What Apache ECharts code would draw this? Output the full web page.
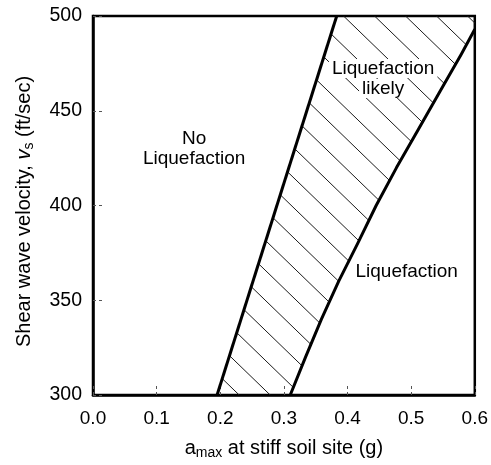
<!DOCTYPE html>
<html>
<head>
<meta charset="utf-8">
<script src="https://cdn.jsdelivr.net/npm/echarts@6/dist/echarts.min.js"></script>
<style>
  html, body { margin: 0; padding: 0; background: #fff; }
  #chart { width: 491px; height: 465px; }
</style>
</head>
<body>
<div id="chart"></div>
<script>
// Axis ticks
const xTicks = [0, 0.1, 0.2, 0.3, 0.4, 0.5, 0.6];
const yTicks = [300, 350, 400, 450, 500];

// Boundary between "No Liquefaction" and "Liquefaction likely"
const lowerBoundV = [300, 500];
const lowerBoundA = [0.195, 0.383];

// Boundary between "Liquefaction likely" and "Liquefaction"
const upperBoundV = [300, 320, 340, 360, 380, 400, 420, 440, 460, 480, 493];
const upperBoundA = [0.31, 0.334, 0.359, 0.386, 0.416, 0.445, 0.477, 0.511, 0.545, 0.579, 0.6];

// Zone labels
const zoneLabels = ['No\nLiquefaction', 'Liquefaction\nlikely', 'Liquefaction'];
const zoneLabelA = [0.159, 0.456, 0.493];
const zoneLabelV = [430, 467, 365];
const zoneLabelBoxed = [false, true, false];

const FONT = '"Liberation Sans", Arial, Helvetica, sans-serif';
const FS = 19;
const TS = 20;

// Diagonal hatch tile for the "likely" band
function hatchTile() {
  const w = 31, h = 30, off = 17;
  const c = document.createElement('canvas');
  c.width = w; c.height = h;
  const g = c.getContext('2d');
  g.strokeStyle = '#1a1a1a';
  g.lineWidth = 1;
  [-w, 0].forEach(s => {
    g.beginPath();
    g.moveTo(off + s, 0);
    g.lineTo(off + s + w, h);
    g.stroke();
  });
  return c;
}
const hatch = hatchTile();

const xMin = xTicks[0], xMax = xTicks[xTicks.length - 1];
const yMin = yTicks[0], yMax = yTicks[yTicks.length - 1];

const lowerLine = lowerBoundA.map((a, i) => [a, lowerBoundV[i]]);
const upperLine = upperBoundA.map((a, i) => [a, upperBoundV[i]]);

// Band outline: lower boundary up, along the top edge, then down the upper boundary
const band = lowerLine
  .concat([[xMax, yMax]])
  .concat(upperLine.slice().reverse());

const chart = echarts.init(document.getElementById('chart'), null, { renderer: 'canvas' });

const plain = { textBorderWidth: 0, textBorderColor: 'transparent', textShadowBlur: 0 };

chart.setOption({
  animation: false,
  backgroundColor: '#fff',
  textStyle: { fontFamily: FONT },
  grid: {
    left: 93, top: 16, width: 385, height: 380,
    show: true, borderColor: '#000', borderWidth: 2.5, backgroundColor: 'transparent'
  },
  xAxis: {
    type: 'value', min: xMin, max: xMax, interval: 0.1,
    axisLine: { show: true, lineStyle: { color: '#000', width: 2.5 } },
    axisTick: { show: true, inside: true, length: 12, lineStyle: { color: '#555', width: 1, type: [3, 3] } },
    splitLine: { show: false },
    axisLabel: { color: '#000', fontSize: FS, fontFamily: FONT, margin: 14, formatter: v => v.toFixed(1) },
    name: '{m|a}{s|max}{m| at stiff soil site (g)}',
    nameLocation: 'middle', nameGap: 41,
    nameTextStyle: {
      color: '#000', fontFamily: FONT,
      rich: {
        m: { fontSize: TS, fontFamily: FONT, color: '#000', lineHeight: 24, verticalAlign: 'middle' },
        s: { fontSize: 14, fontFamily: FONT, color: '#000', lineHeight: 14, verticalAlign: 'bottom' }
      }
    }
  },
  yAxis: {
    type: 'value', min: yMin, max: yMax, interval: 50,
    axisLine: { show: true, lineStyle: { color: '#000', width: 2.5 } },
    axisTick: { show: true, inside: true, length: 12, lineStyle: { color: '#555', width: 1, type: [3, 3] } },
    splitLine: { show: false },
    axisLabel: { color: '#000', fontSize: FS + 0.5, fontFamily: FONT, margin: 11 },
    name: '{m|Shear wave velocity, }{i|v}{s|s}{m| (ft/sec)}',
    nameLocation: 'middle', nameGap: 57,
    nameTextStyle: {
      color: '#000', fontFamily: FONT,
      padding: [0, 12, 0, 0],
      rich: {
        m: { fontSize: TS, fontFamily: FONT, color: '#000', lineHeight: 24, verticalAlign: 'middle' },
        i: { fontSize: TS, fontFamily: FONT, fontStyle: 'italic', color: '#000', lineHeight: 24, verticalAlign: 'middle' },
        s: { fontSize: 14, fontFamily: FONT, color: '#000', lineHeight: 14, verticalAlign: 'bottom' }
      }
    }
  },
  series: [
    {
      type: 'custom',
      coordinateSystem: 'cartesian2d',
      silent: true,
      z: 1,
      data: [[xMin, yMin]],
      renderItem: (params, api) => ({
        type: 'polygon',
        shape: { points: band.map(p => api.coord(p)) },
        style: { fill: { image: hatch, repeat: 'repeat' }, stroke: null }
      })
    },
    {
      type: 'line', data: lowerLine, showSymbol: false, silent: true, z: 3,
      lineStyle: { color: '#000', width: 3 }
    },
    {
      type: 'line', data: upperLine, showSymbol: false, silent: true, z: 3,
      lineStyle: { color: '#000', width: 3, join: 'round' }
    },
    {
      type: 'scatter', symbolSize: 0, silent: true, z: 5,
      itemStyle: { color: '#000', opacity: 1 },
      data: zoneLabels.map((t, i) => [zoneLabelA[i], zoneLabelV[i], i]),
      label: Object.assign({
        show: true, position: 'inside', align: 'center', verticalAlign: 'middle',
        fontSize: FS, fontFamily: FONT, color: '#000', opacity: 1, lineHeight: 20,
        formatter: p => {
          const i = p.data[2];
          const lines = zoneLabels[i].split('\n');
          const tag = zoneLabelBoxed[i] ? 'w' : 't';
          return lines.map(l => '{' + tag + '|' + l + '}').join('\n');
        },
        rich: {
          t: Object.assign({ fontSize: FS, fontFamily: FONT, color: '#000', lineHeight: 20 }, plain),
          w: Object.assign({ fontSize: FS, fontFamily: FONT, color: '#000', lineHeight: 20, backgroundColor: '#fff', padding: [0, 3] }, plain)
        }
      }, plain)
    }
  ]
});
</script>
</body>
</html>
